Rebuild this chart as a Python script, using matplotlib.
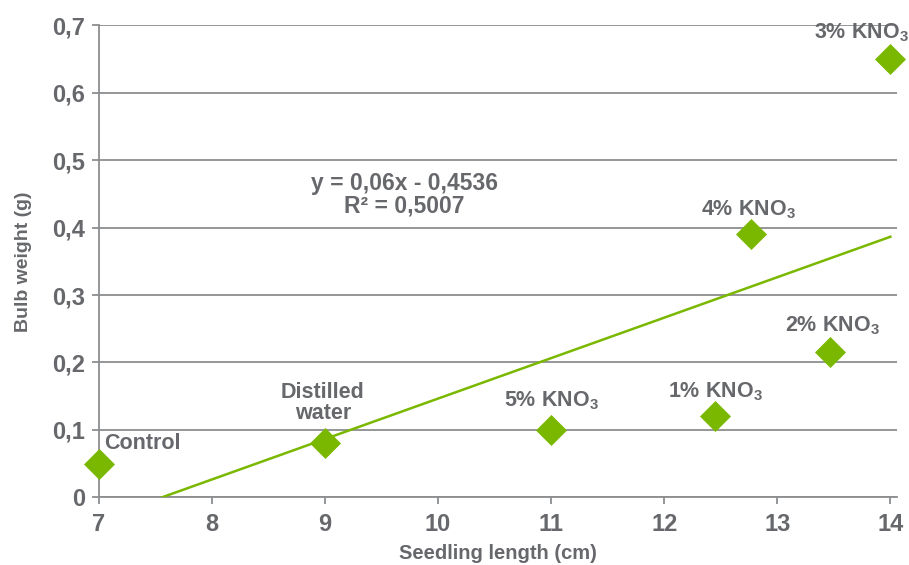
import matplotlib
matplotlib.use("Agg")
import matplotlib.pyplot as plt
import numpy as np

plt.rcParams['font.family'] = ['Liberation Sans', 'DejaVu Sans']
plt.rcParams['font.weight'] = 'bold'
plt.rcParams['mathtext.fontset'] = 'custom'
plt.rcParams['mathtext.rm'] = 'Liberation Sans:bold'
plt.rcParams['mathtext.default'] = 'rm'

# data
labels = ['Control', 'Distilled\nwater', '5% KNO$_3$', '1% KNO$_3$', '2% KNO$_3$', '4% KNO$_3$', '3% KNO$_3$']
seedling_length = [7.0, 9.0, 11.0, 12.45, 13.47, 12.77, 14.0]
bulb_weight = [0.05, 0.08, 0.10, 0.12, 0.216, 0.39, 0.65]
slope = 0.06
intercept = -0.4536
r2 = 0.5007
x_ticks = [7, 8, 9, 10, 11, 12, 13, 14]
y_ticks = [0, 0.1, 0.2, 0.3, 0.4, 0.5, 0.6, 0.7]
y_ticklabels = ['0', '0,1', '0,2', '0,3', '0,4', '0,5', '0,6', '0,7']

GREEN = '#7ab800'
GRAY = '#66686b'
GRID = '#8c8e90'

fig = plt.figure(figsize=(9.09, 5.65), dpi=100)
ax = fig.add_axes([0.1086, 0.1198, 0.8779, 0.8354])

ax.set_xlim(7, 14.056)
ax.set_ylim(0, 0.7)

ax.set_yticks(y_ticks)
ax.set_yticklabels(y_ticklabels)
ax.set_xticks(x_ticks)
ax.yaxis.grid(True, color=GRID, linewidth=1.3)
ax.set_axisbelow(True)
for s in ['top', 'right']:
    ax.spines[s].set_visible(False)
for s in ['left', 'bottom']:
    ax.spines[s].set_color(GRID)
    ax.spines[s].set_linewidth(1.3)
ax.tick_params(axis='both', colors=GRID, labelcolor=GRAY, labelsize=17, length=5, width=1.3)
ax.tick_params(axis='x', pad=6)
ax.tick_params(axis='y', pad=5)

# trend line
xt = np.array([intercept / -slope, 14.0])
ax.plot(xt, slope * xt + intercept, color=GREEN, linewidth=1.8, zorder=3)

ax.scatter(seedling_length, bulb_weight, marker='D', s=250, color=GREEN, zorder=4,
           linewidths=0, clip_on=False)

offsets = [(5, 20, 'left'), (-2, 40, 'center'), (0, 29, 'center'), (0, 25, 'center'),
           (2, 26, 'center'), (-3, 25, 'center'), (18, 26, 'right')]
for lab, x, y, (dx, dy, ha) in zip(labels, seedling_length, bulb_weight, offsets):
    ax.annotate(lab, (x, y), xytext=(dx, dy), textcoords='offset pixels',
                ha=ha, va='center', fontsize=15.5, color=GRAY, fontweight='bold',
                linespacing=1.0, annotation_clip=False)

ax.text(9.7, 0.4485, f'y = {slope:.2f}x - {abs(intercept):.4f}\nR² = {r2:.4f}'.replace('.', ','),
        ha='center', va='center', fontsize=16.5, color=GRAY, fontweight='bold', linespacing=1.0)

ax.set_xlabel('Seedling length (cm)', fontsize=14.5, color=GRAY, fontweight='bold', labelpad=6)
ax.set_ylabel('Bulb weight (g)', fontsize=14, color=GRAY, fontweight='bold', labelpad=14)

fig.savefig('out.png', dpi=100)
